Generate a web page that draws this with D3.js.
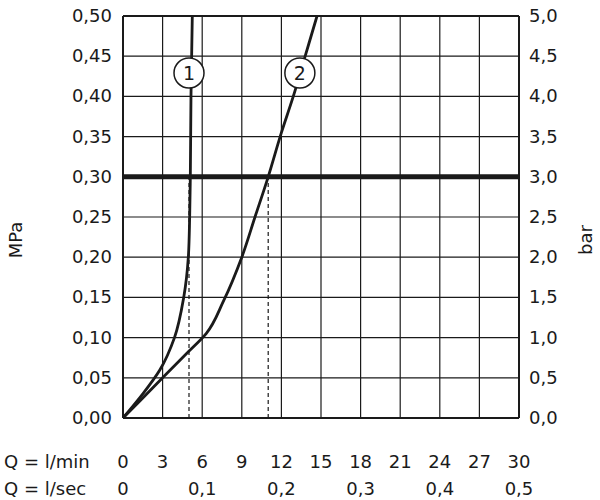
<!DOCTYPE html><html><head><meta charset="utf-8"><script src="https://cdn.jsdelivr.net/npm/d3@7"></script>
<style>body{margin:0;background:#fff}text{font-family:"DejaVu Sans",sans-serif;fill:#1a1a1a}</style></head><body>
<svg id="c" width="600" height="500"></svg>
<script>
const xTicks=[0,3,6,9,12,15,18,21,24,27,30];
const secTicks=[[0,"0"],[6,"0,1"],[12,"0,2"],[18,"0,3"],[24,"0,4"],[30,"0,5"]];
const yTicks=[0,0.05,0.1,0.15,0.2,0.25,0.3,0.35,0.4,0.45,0.5];
const curve1=[[0,0],[1.5,0.03],[2.8,0.06],[3.9,0.1],[4.6,0.15],[4.95,0.2],[5.05,0.25],[5.1,0.3],[5.15,0.4],[5.25,0.5]];
const curve2=[[0,0],[1.5,0.025],[3,0.05],[4.8,0.08],[6.3,0.105],[7.6,0.145],[9,0.2],[10,0.25],[11,0.3],[12,0.355],[12.9,0.4],[13.8,0.45],[14.7,0.5]];
const ref1=5.0, ref2=11.0, refY=0.3;
const svg=d3.select("#c");
const x=d3.scaleLinear([0,30],[123,519]);
const y=d3.scaleLinear([0,0.5],[418,16]);
const g=svg.append("g");
xTicks.forEach(t=>g.append("line").attr("x1",x(t)).attr("x2",x(t)).attr("y1",y(0)).attr("y2",y(0.5)).attr("stroke","#1a1a1a").attr("stroke-width",(t==0||t==30)?2:1.2));
yTicks.forEach(t=>g.append("line").attr("x1",x(0)).attr("x2",x(30)).attr("y1",y(t)).attr("y2",y(t)).attr("stroke","#1a1a1a").attr("stroke-width",t==refY?5:((t==0||t==0.5)?2:1.2)));
[ref1,ref2].forEach(r=>g.append("line").attr("x1",x(r)).attr("x2",x(r)).attr("y1",y(0)).attr("y2",y(refY)).attr("stroke","#1a1a1a").attr("stroke-width",1.2).attr("stroke-dasharray","4,3"));
const line=d3.line().x(d=>x(d[0])).y(d=>y(d[1])).curve(d3.curveMonotoneY);
[curve1,curve2].forEach(c=>g.append("path").attr("d",line(c)).attr("fill","none").attr("stroke","#1a1a1a").attr("stroke-width",2.8));
[[5.0,"1"],[13.4,"2"]].forEach(([v,l])=>{const cx=x(v),cy=73;
g.append("circle").attr("cx",cx).attr("cy",cy).attr("r",15).attr("fill","#fff").attr("stroke","#1a1a1a").attr("stroke-width",1.5);
g.append("text").attr("x",cx).attr("y",cy+7).attr("text-anchor","middle").attr("font-size",19).text(l);});
const fmt=(v,d)=>v.toFixed(d).replace(".",",");
yTicks.forEach(t=>{
svg.append("text").attr("x",112).attr("y",y(t)+6).attr("text-anchor","end").attr("font-size",18).text(fmt(t,2));
svg.append("text").attr("x",529).attr("y",y(t)+6).attr("font-size",18).text(fmt(t*10,1));});
svg.append("text").attr("transform","translate(22,240) rotate(-90)").attr("text-anchor","middle").attr("font-size",18).text("MPa");
svg.append("text").attr("transform","translate(592,240) rotate(-90)").attr("text-anchor","middle").attr("font-size",18).text("bar");
svg.append("text").attr("x",4).attr("y",468).attr("font-size",18).text("Q = l/min");
svg.append("text").attr("x",4).attr("y",495).attr("font-size",18).text("Q = l/sec");
xTicks.forEach(t=>svg.append("text").attr("x",x(t)).attr("y",468).attr("text-anchor","middle").attr("font-size",18).text(t));
secTicks.forEach(([t,l])=>svg.append("text").attr("x",x(t)).attr("y",495).attr("text-anchor","middle").attr("font-size",18).text(l));
</script></body></html>
